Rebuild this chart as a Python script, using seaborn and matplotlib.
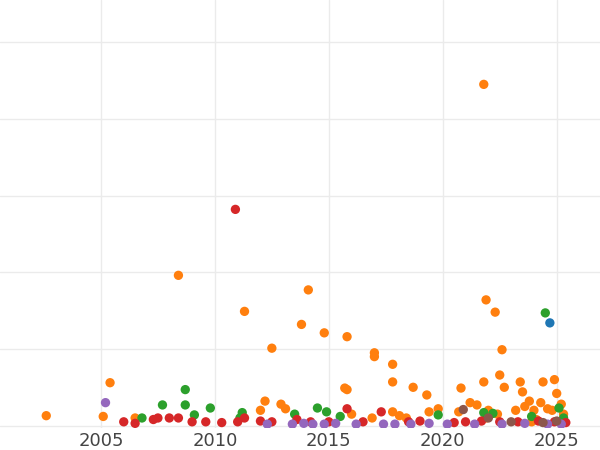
import pandas as pd
import matplotlib.pyplot as plt
import seaborn as sns

# values (year, relative value)
orange_x = [2002.6, 2005.1, 2005.4, 2006.5, 2008.4, 2011.3, 2012.5, 2012.2, 2012.0, 2013.8, 2014.1, 2014.8,
            2015.8, 2015.7, 2015.8, 2017.0, 2017.0, 2017.8, 2017.8, 2018.7, 2019.3, 2020.8, 2021.8, 2021.9,
            2022.3, 2022.6, 2022.5, 2021.8, 2022.7, 2023.4, 2023.5, 2023.8, 2024.4, 2024.9, 2025.0, 2012.9,
            2013.1, 2016.0, 2016.9, 2017.8, 2018.1, 2018.4, 2019.4, 2019.8, 2020.7, 2021.2, 2021.5, 2022.0,
            2022.4, 2023.2, 2023.6, 2024.0, 2024.3, 2024.6, 2024.8, 2025.2, 2025.3, 2024.1, 2023.9, 2021.9]
orange_y = [0.13, 0.12, 0.56, 0.1, 1.96, 1.49, 1.01, 0.32, 0.2, 1.32, 1.77, 1.21,
            1.16, 0.49, 0.47, 0.95, 0.9, 0.8, 0.57, 0.5, 0.4, 0.49, 4.45, 1.64,
            1.48, 0.99, 0.66, 0.57, 0.5, 0.57, 0.44, 0.32, 0.57, 0.6, 0.42, 0.28,
            0.22, 0.15, 0.1, 0.18, 0.13, 0.1, 0.18, 0.22, 0.18, 0.3, 0.27, 0.2,
            0.15, 0.2, 0.25, 0.2, 0.3, 0.22, 0.2, 0.28, 0.15, 0.08, 0.05, 0.1]
green_x = [2006.8, 2007.7, 2008.7, 2008.7, 2009.1, 2009.8, 2011.2, 2011.1, 2013.5, 2014.5, 2014.9, 2015.5,
           2019.8, 2021.8, 2022.2, 2023.9, 2024.5, 2025.1, 2025.3]
green_y = [0.1, 0.27, 0.47, 0.27, 0.14, 0.23, 0.17, 0.1, 0.15, 0.23, 0.18, 0.12,
           0.14, 0.17, 0.16, 0.12, 1.47, 0.23, 0.1]
red_x = [2006.0, 2006.5, 2007.3, 2007.5, 2008.0, 2008.4, 2009.0, 2009.6, 2010.3, 2010.9, 2011.0, 2011.3,
         2012.0, 2012.5, 2013.6, 2014.2, 2015.0, 2015.8, 2016.5, 2017.3, 2018.5, 2019.0, 2020.5, 2021.0,
         2021.7, 2022.5, 2023.3, 2024.2, 2024.9, 2025.4]
red_y = [0.05, 0.03, 0.08, 0.1, 0.1, 0.1, 0.05, 0.05, 0.04, 2.82, 0.05, 0.1,
         0.06, 0.05, 0.08, 0.05, 0.05, 0.22, 0.05, 0.18, 0.05, 0.06, 0.04, 0.05,
         0.06, 0.05, 0.05, 0.06, 0.05, 0.04]
purple_x = [2005.2, 2012.3, 2013.4, 2013.9, 2014.3, 2014.8, 2015.3, 2016.2, 2017.4, 2017.9, 2018.6, 2019.4,
            2020.2, 2021.4, 2022.6, 2023.6, 2024.6, 2025.2]
purple_y = [0.3, 0.02, 0.02, 0.03, 0.02, 0.02, 0.03, 0.02, 0.02, 0.02, 0.02, 0.03,
            0.02, 0.02, 0.02, 0.03, 0.02, 0.02]
blue_x = [2024.7]
blue_y = [1.34]
brown_x = [2020.9, 2022.0, 2023.0, 2024.4, 2025.0]
brown_y = [0.21, 0.1, 0.05, 0.04, 0.06]

groups = {"orange": (orange_x, orange_y), "green": (green_x, green_y), "red": (red_x, red_y),
          "purple": (purple_x, purple_y), "blue": (blue_x, blue_y), "brown": (brown_x, brown_y)}
rows = []
for name, (xs, ys) in groups.items():
    rows += [{"year": x, "value": y, "group": name} for x, y in zip(xs, ys)]
df = pd.DataFrame(rows)

palette = {"orange": "#ff7f0e", "green": "#2ca02c", "red": "#d62728",
           "purple": "#9467bd", "blue": "#1f77b4", "brown": "#8c564b"}

sns.set_theme(style="whitegrid")
fig = plt.figure(figsize=(6, 4.5), dpi=100)
ax = fig.add_axes([0, 0.049, 1, 0.951])
sns.scatterplot(data=df, x="year", y="value", hue="group", palette=palette,
                s=45, edgecolor="none", legend=False, ax=ax)

ax.set_xlim(2000.57, 2026.9)
ax.set_ylim(-0.03, 5.55)
ax.set_xticks([2005, 2010, 2015, 2020, 2025])
ax.set_yticks([0, 1, 2, 3, 4, 5])
ax.set_yticklabels([])
ax.tick_params(axis="y", length=0)
ax.tick_params(axis="x", labelsize=13, labelcolor="#444444", length=0, pad=3)
ax.grid(color="#ebebeb", linewidth=1)
ax.set_xlabel("")
ax.set_ylabel("")
for s in ax.spines.values():
    s.set_visible(False)

fig.savefig("out.png", dpi=100)
